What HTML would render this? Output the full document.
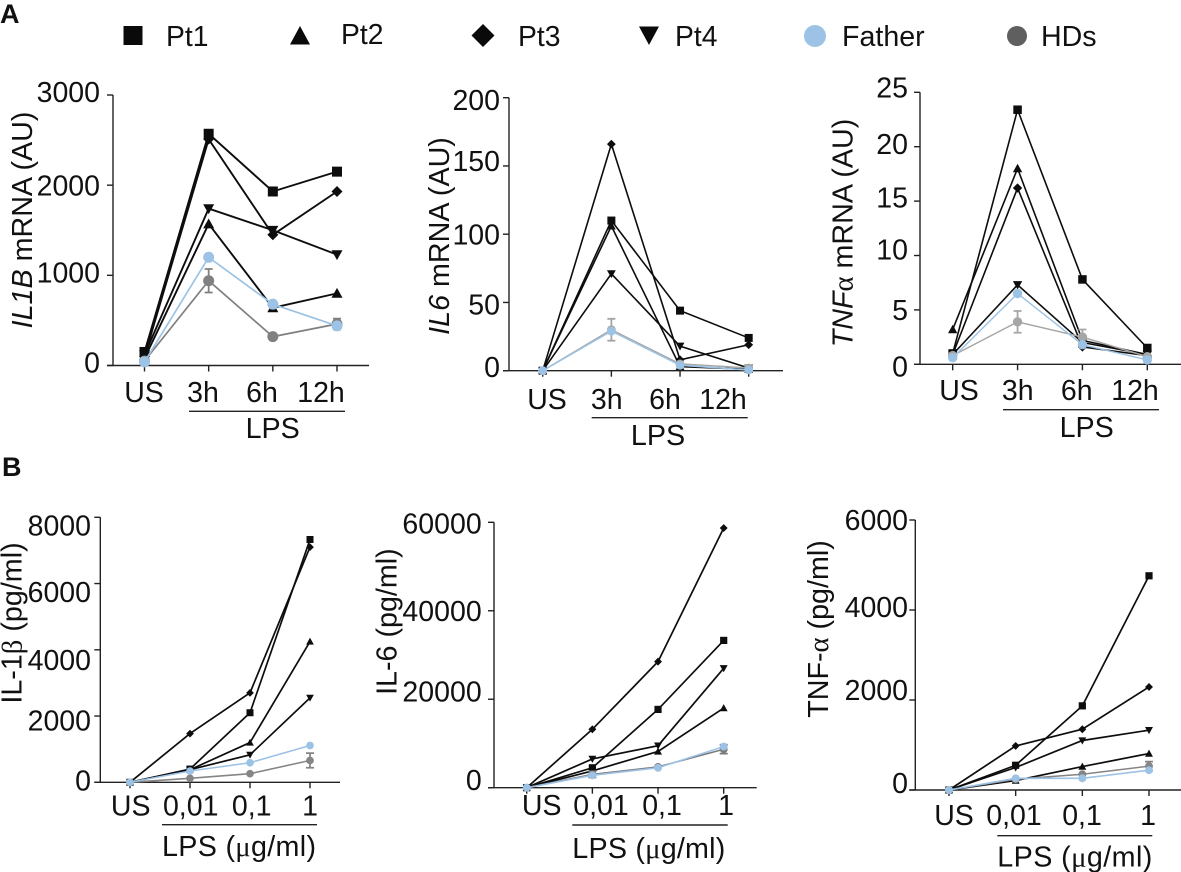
<!DOCTYPE html>
<html lang="en">
<head>
<meta charset="utf-8">
<title>Cytokine mRNA and protein charts</title>
<style>
html,body{margin:0;padding:0;background:#fff;}
body{width:1181px;height:872px;overflow:hidden;}
svg{display:block;}
text{font-family:"Liberation Sans",sans-serif;fill:#111;}
.t{font-size:28.7px;}
.g{font-family:"Liberation Serif",serif;}
</style>
</head>
<body>
<svg id="figure" width="1181" height="872" viewBox="0 0 1181 872" xmlns="http://www.w3.org/2000/svg">
  <rect width="1181" height="872" fill="#fff"/>
  <text x="0" y="23" font-size="27" font-weight="bold">A</text>
  <text x="2" y="476" font-size="27" font-weight="bold">B</text>

  <g>
    <rect x="123.5" y="26" width="19" height="19" fill="#0a0a0a"/>
    <text x="166" y="46" font-size="28.3">Pt1</text>
    <polygon points="300,26 310,44.5 290,44.5" fill="#0a0a0a"/>
    <text x="341" y="44" font-size="28.3">Pt2</text>
    <polygon points="483,24 494.5,35.5 483,47 471.5,35.5" fill="#0a0a0a"/>
    <text x="518" y="46" font-size="28.3">Pt3</text>
    <polygon points="639,26.5 659,26.5 649,45" fill="#0a0a0a"/>
    <text x="675" y="46" font-size="28.3">Pt4</text>
    <circle cx="815" cy="36" r="11" fill="#9cc2e5"/>
    <text x="842" y="46" font-size="28.6">Father</text>
    <circle cx="1017" cy="36" r="10" fill="#5f5f5f"/>
    <text x="1041" y="46" font-size="28.6">HDs</text>
  </g>

  <text class="t" text-anchor="middle" transform="translate(32 220) rotate(-90)"><tspan font-style="italic">IL1B</tspan> mRNA (AU)</text>
  <text class="t" text-anchor="middle" transform="translate(449 236) rotate(-90)"><tspan font-style="italic">IL6</tspan> mRNA (AU)</text>
  <text class="t" text-anchor="middle" transform="translate(852.7 233) rotate(-90)"><tspan font-style="italic">TNF</tspan><tspan class="g">α</tspan> mRNA (AU)</text>
  <text class="t" text-anchor="middle" transform="translate(21.7 623) rotate(-90)">IL-1<tspan class="g">β</tspan> (pg/ml)</text>
  <text class="t" text-anchor="middle" transform="translate(396.7 621.6) rotate(-90)">IL-6 (pg/ml)</text>
  <text class="t" text-anchor="middle" transform="translate(828 629) rotate(-90)">TNF-<tspan class="g">α</tspan> (pg/ml)</text>

  <g>
    <line x1="189" x2="345" y1="411.3" y2="411.3" stroke="#222" stroke-width="1.4"/>
    <text class="t" x="272.7" y="438" text-anchor="middle">LPS</text>
  </g>
  <g>
    <line x1="591.7" x2="747.7" y1="417.7" y2="417.7" stroke="#222" stroke-width="1.4"/>
    <text class="t" x="658" y="445" text-anchor="middle">LPS</text>
  </g>
  <g>
    <line x1="1003" x2="1159" y1="409.7" y2="409.7" stroke="#222" stroke-width="1.4"/>
    <text class="t" x="1086.7" y="437" text-anchor="middle">LPS</text>
  </g>
  <g>
    <line x1="162" x2="317" y1="824.7" y2="824.7" stroke="#222" stroke-width="1.4"/>
    <text class="t" x="162" y="856" textLength="154">LPS (<tspan class="g">μ</tspan>g/ml)</text>
  </g>
  <g>
    <line x1="572.3" x2="727.7" y1="825" y2="825" stroke="#222" stroke-width="1.4"/>
    <text class="t" x="572.3" y="858" textLength="153">LPS (<tspan class="g">μ</tspan>g/ml)</text>
  </g>
  <g>
    <line x1="997.3" x2="1152.3" y1="835.7" y2="835.7" stroke="#222" stroke-width="1.4"/>
    <text class="t" x="997.3" y="866.7" textLength="155">LPS (<tspan class="g">μ</tspan>g/ml)</text>
  </g>
</svg>

<script>
/* ---------- shared data ---------- */
const timeCategories = ["US", "3h", "6h", "12h"];
const doseCategories = ["US", "0,01", "0,1", "1"];

/* ---------- IL1B mRNA ---------- */
const il1bTicks = [0, 1000, 2000, 3000];
const il1bPt1 = [150, 2570, 1930, 2150];
const il1bPt2 = [80, 1570, 640, 800];
const il1bPt3 = [100, 2510, 1450, 1930];
const il1bPt4 = [120, 1740, 1500, 1230];
const il1bFather = [40, 1200, 680, 440];
const il1bHDs = [50, 940, 320, 460];
const il1bHDsError = [0, 130, 0, 60];

/* ---------- IL6 mRNA ---------- */
const il6Ticks = [0, 50, 100, 150, 200];
const il6Pt1 = [0, 110, 44, 24];
const il6Pt2 = [0, 106, 3, 1];
const il6Pt3 = [0, 166, 8, 19];
const il6Pt4 = [0, 71, 18, 2];
const il6Father = [0, 29, 4, 0.5];
const il6HDs = [0, 30, 5, 2];
const il6HDsError = [0, 8, 0, 1.5];

/* ---------- TNFa mRNA ---------- */
const tnfTicks = [0, 5, 10, 15, 20, 25];
const tnfPt1 = [1, 23.4, 7.8, 1.5];
const tnfPt2 = [3.2, 18, 2.2, 0.9];
const tnfPt3 = [0.9, 16.2, 1.6, 0.8];
const tnfPt4 = [0.9, 7.3, 2, 0.9];
const tnfFather = [0.6, 6.5, 1.8, 0.4];
const tnfHDs = [0.8, 3.9, 2.5, 0.7];
const tnfHDsError = [0, 1, 0.7, 0.1];

/* ---------- IL-1beta protein ---------- */
const il1betaTicks = [0, 2000, 4000, 6000, 8000];
const il1betaPt1 = [0, 400, 2100, 7330];
const il1betaPt2 = [0, 380, 1200, 4250];
const il1betaPt3 = [0, 1470, 2700, 7100];
const il1betaPt4 = [0, 380, 830, 2550];
const il1betaFather = [0, 340, 590, 1110];
const il1betaHDs = [0, 120, 260, 660];
const il1betaHDsError = [0, 0, 0, 220];

/* ---------- IL-6 protein ---------- */
const il6pTicks = [0, 20000, 40000, 60000];
const il6pPt1 = [0, 4500, 17700, 33300];
const il6pPt2 = [0, 3800, 8200, 18000];
const il6pPt3 = [0, 13200, 28500, 58700];
const il6pPt4 = [0, 6500, 9500, 27000];
const il6pFather = [0, 2800, 4500, 9300];
const il6pHDs = [0, 3000, 4700, 8700];
const il6pHDsError = [0, 700, 0, 1000];

/* ---------- TNF-alpha protein ---------- */
const tnfpTicks = [0, 2000, 4000, 6000];
const tnfpPt1 = [0, 550, 1870, 4760];
const tnfpPt2 = [0, 210, 520, 810];
const tnfpPt3 = [0, 980, 1350, 2290];
const tnfpPt4 = [0, 500, 1100, 1330];
const tnfpFather = [0, 260, 260, 440];
const tnfpHDs = [0, 240, 350, 530];
const tnfpHDsError = [0, 0, 0, 100];

/* ---------- layout, separate from the data ---------- */
const panels = [
  {id:"il1b", ticks:il1bTicks, cats:timeCategories, pt1:il1bPt1, pt2:il1bPt2, pt3:il1bPt3, pt4:il1bPt4, father:il1bFather, hds:il1bHDs, err:il1bHDsError,
   axisX:113, top:95, bottom:365.5, right:369, first:144.5, last:337, labelRight:100, nudge:[-3,-3,0,-3],
   catCentres:[144,203,262,321], catBase:402, marker:1, hdColor:"#808080", lw:1.9},
  {id:"il6", ticks:il6Ticks, cats:timeCategories, pt1:il6Pt1, pt2:il6Pt2, pt3:il6Pt3, pt4:il6Pt4, father:il6Father, hds:il6HDs, err:il6HDsError,
   axisX:509, top:97.7, bottom:370.7, right:783, first:542.7, last:748.7, labelRight:500, nudge:[-4,2,0,-5,2],
   catCentres:[547,606.7,665,723], catBase:409, marker:0.8, hdColor:"#a6a6a6", lw:1.6},
  {id:"tnfa", ticks:tnfTicks, cats:timeCategories, pt1:tnfPt1, pt2:tnfPt2, pt3:tnfPt3, pt4:tnfPt4, father:tnfFather, hds:tnfHDs, err:tnfHDsError,
   axisX:920, top:92.3, bottom:364.3, right:1181, first:952.7, last:1147.3, labelRight:908, nudge:[2,0,-6,-4,-3,-5],
   catCentres:[959,1017.7,1076.7,1135], catBase:400, marker:0.85, hdColor:"#a6a6a6", lw:1.6},
  {id:"il1beta", ticks:il1betaTicks, cats:doseCategories, pt1:il1betaPt1, pt2:il1betaPt2, pt3:il1betaPt3, pt4:il1betaPt4, father:il1betaFather, hds:il1betaHDs, err:il1betaHDsError,
   axisX:100.3, top:517.3, bottom:782.3, right:340, first:130, last:310, labelRight:91, nudge:[-2,4,10,8,8],
   catCentres:[130.7,190.7,251.7,310], catBase:815.7, marker:0.7, hdColor:"#858585", lw:1.7},
  {id:"il6-protein", ticks:il6pTicks, cats:doseCategories, pt1:il6pPt1, pt2:il6pPt2, pt3:il6pPt3, pt4:il6pPt4, father:il6pFather, hds:il6pHDs, err:il6pHDsError,
   axisX:494, top:522.3, bottom:787.7, right:756.7, first:526.7, last:723.7, labelRight:481.7, nudge:[-8,-8,0,1],
   catCentres:[541.7,601,662,726], catBase:815, marker:0.72, hdColor:"#7a7a7a", lw:1.7},
  {id:"tnf-alpha", ticks:tnfpTicks, cats:doseCategories, pt1:tnfpPt1, pt2:tnfpPt2, pt3:tnfpPt3, pt4:tnfpPt4, father:tnfpFather, hds:tnfpHDs, err:tnfpHDsError,
   axisX:915.3, top:520, bottom:790, right:1181, first:949, last:1149, labelRight:908, nudge:[-7,-10,-3,0],
   catCentres:[954,1014,1082,1148], catBase:825, marker:0.72, hdColor:"#858585", lw:1.7}
];

const NS = "http://www.w3.org/2000/svg";
const figure = document.getElementById("figure");
const INK = "#0d0d0d";
const FATHER = "#9cc2e5";
const TICK_FONT = 28.5;

function make(tag, attrs, parent) {
  const el = document.createElementNS(NS, tag);
  for (const k in attrs) el.setAttribute(k, attrs[k]);
  parent.appendChild(el);
  return el;
}

function drawMarker(shape, x, y, s, color, parent) {
  if (shape === "square") {
    const h = 5 * s;
    return make("rect", {x: x - h, y: y - h, width: 2 * h, height: 2 * h, fill: color}, parent);
  }
  if (shape === "up") {
    const h = 5.5 * s;
    return make("polygon", {points: [x, y - h, x + h, y + h * 0.8, x - h, y + h * 0.8].join(" "), fill: color}, parent);
  }
  if (shape === "down") {
    const h = 5.5 * s;
    return make("polygon", {points: [x - h, y - h * 0.8, x + h, y - h * 0.8, x, y + h].join(" "), fill: color}, parent);
  }
  if (shape === "diamond") {
    const h = 5.5 * s;
    return make("polygon", {points: [x, y - h, x + h, y, x, y + h, x - h, y].join(" "), fill: color}, parent);
  }
  return make("circle", {cx: x, cy: y, r: 5.5 * s, fill: color}, parent);
}

panels.forEach(function (p) {
  const maxTick = p.ticks[p.ticks.length - 1];
  const yScale = function (v) { return p.bottom - (v / maxTick) * (p.bottom - p.top); };
  const xScale = function (i) { return p.first + (i / (p.cats.length - 1)) * (p.last - p.first); };

  const chart = make("g", {}, figure);
  
  

  /* axes */
  const axes = make("g", {stroke: "#222", "stroke-width": 1.4, fill: "none"}, chart);
  
  
  const yLine = make("line", {x1: p.axisX, x2: p.axisX, y1: p.top, y2: p.bottom}, axes);
  
  
  const xLine = make("line", {x1: p.axisX - 6, x2: p.right, y1: p.bottom, y2: p.bottom}, axes);
  
  

  p.ticks.forEach(function (t, i) {
    const y = yScale(t);
    const tick = make("line", {x1: p.axisX - 6, x2: p.axisX, y1: y, y2: y}, axes);
    
    
    const label = make("text", {x: p.labelRight, y: y + 10.2 + p.nudge[i], "text-anchor": "end", "font-size": TICK_FONT}, chart);
    
    
    label.textContent = String(t);
  });

  p.cats.forEach(function (c, i) {
    const x = xScale(i);
    const tick = make("line", {x1: x, x2: x, y1: p.bottom, y2: p.bottom + 6}, axes);
    
    
    const label = make("text", {x: p.catCentres[i], y: p.catBase, "text-anchor": "middle", "font-size": TICK_FONT}, chart);
    
    
    label.textContent = c;
  });

  /* series */
  const seriesList = [
    {name: "pt1", values: p.pt1, color: INK, shape: "square"},
    {name: "pt2", values: p.pt2, color: INK, shape: "up"},
    {name: "pt3", values: p.pt3, color: INK, shape: "diamond"},
    {name: "pt4", values: p.pt4, color: INK, shape: "down"},
    {name: "hds", values: p.hds, color: p.hdColor, shape: "circle", error: p.err},
    {name: "father", values: p.father, color: FATHER, shape: "circle"}
  ];

  seriesList.forEach(function (s) {
    const group = make("g", {}, chart);
    
    

    const points = s.values.map(function (v, i) { return xScale(i) + "," + yScale(v); }).join(" ");
    const width = (s.color === INK) ? p.lw : p.lw * 0.9;
    const line = make("polyline", {points: points, fill: "none", stroke: s.color, "stroke-width": width, "stroke-linejoin": "miter"}, group);
    
    

    if (s.error) {
      s.error.forEach(function (e, i) {
        if (!e) return;
        const x = xScale(i);
        const yA = yScale(s.values[i] + e);
        const yB = yScale(s.values[i] - e);
        const bar = make("path", {
          d: "M" + (x - 4) + " " + yA + "H" + (x + 4) + "M" + x + " " + yA + "V" + yB + "M" + (x - 4) + " " + yB + "H" + (x + 4),
          fill: "none", stroke: s.color, "stroke-width": 1.8
        }, group);
        
        
      });
    }

    s.values.forEach(function (v, i) {
      const mark = drawMarker(s.shape, xScale(i), yScale(v), p.marker, s.color, group);
      
      
    });
  });
});
</script>
</body>
</html>
